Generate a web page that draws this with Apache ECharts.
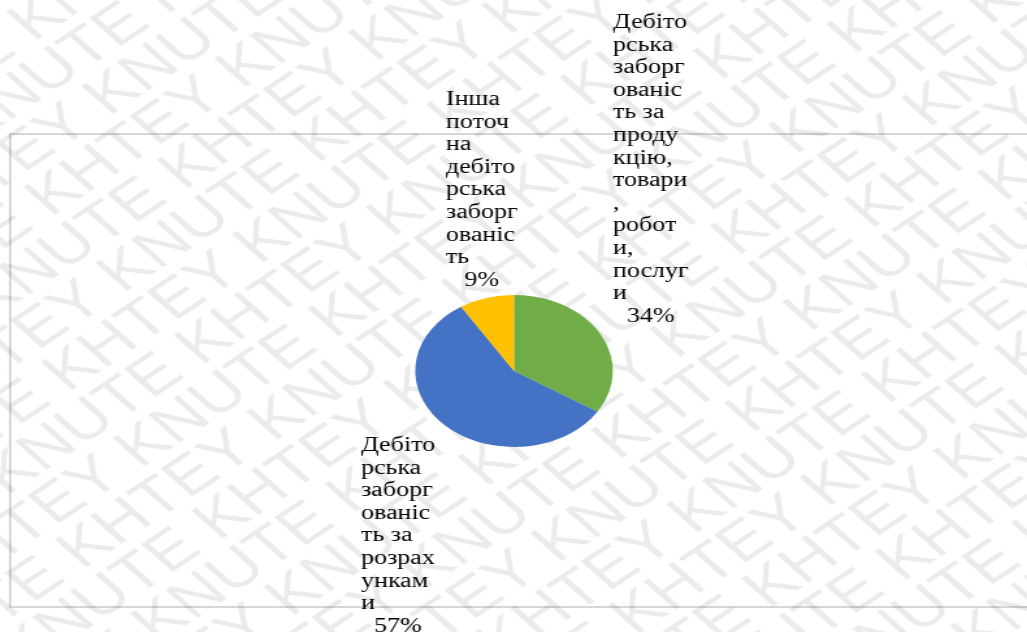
<!DOCTYPE html>
<html><head><meta charset="utf-8">
<script src="https://cdn.jsdelivr.net/npm/echarts@6/dist/echarts.min.js"></script>
<style>
html,body{margin:0;padding:0;overflow:hidden;background:#fff;}
#wrap{width:1027px;height:632px;overflow:hidden;position:relative;}
#c{width:790px;height:632px;transform:scaleX(1.3);transform-origin:0 0;}
</style></head><body><div id="wrap"><div id="c"></div></div>
<script>
const categories = [
  'Дебіторська заборгованість за продукцію, товари, роботи, послуги',
  'Дебіторська заборгованість за розрахунками',
  'Інша поточна дебіторська заборгованість'
];
const wrappedNames = [
  ['Дебіто','рська','заборг','ованіс','ть за','проду','кцію,','товари',',','робот','и,','послуг','и'],
  ['Дебіто','рська','заборг','ованіс','ть за','розрах','ункам','и'],
  ['Інша','поточ','на','дебіто','рська','заборг','ованіс','ть']
];
const values = [34, 57, 9];
const colors = ['#70AD47', '#4472C4', '#FFC000'];
const labelPos = [[471.5, 11.5], [277.7, 434.5], [343, 88.5]];
const watermarkText = 'KHTEY KNUTE ';

const serif = 'Liberation Serif';

const chart = echarts.init(document.getElementById('c'), null, {renderer: 'canvas'});
const wmRows = [];
for (let i = -16; i < 26; i++) {
  wmRows.push({
    type: 'text',
    x: -600 + (((i * 95) % 390) + 390) % 390,
    y: i * 47,
    silent: true,
    style: {
      text: watermarkText.repeat(8),
      fontFamily: 'Liberation Sans',
      fontSize: 54,
      fill: 'rgba(0,0,0,0.08)'
    }
  });
}
chart.setOption({
  animation: false,
  backgroundColor: '#fff',
  graphic: [
    {
      type: 'rect', z: 0, silent: true,
      shape: {x: 7.7, y: 134, width: 800, height: 473},
      style: {fill: 'none', stroke: '#c9c9c9', lineWidth: 1.5}
    },
    {
      type: 'group', z: 100, silent: true,
      x: 0, y: 632, rotation: 41 * Math.PI / 180,
      children: wmRows
    }
  ],
  series: [{
    type: 'pie',
    center: [395.4, 371],
    radius: 76,
    startAngle: 90,
    clockwise: true,
    avoidLabelOverlap: false,
    itemStyle: {borderWidth: 0},
    emphasis: {disabled: true},
    labelLine: {show: false},
    label: {
      show: true,
      position: 'outside',
      color: '#000',
      fontFamily: serif,
      fontSize: 20,
      lineHeight: 22.6,
      formatter: function (p) {
        return wrappedNames[p.dataIndex].map(l => '{n|' + l + '}').join('\n') +
          '\n{p|' + Math.round(p.percent) + '%}';
      },
      rich: {
        n: {fontFamily: serif, fontSize: 20, lineHeight: 22.6, color: '#000', align: 'left'},
        p: {fontFamily: serif, fontSize: 20, lineHeight: 22.6, color: '#000', align: 'center'}
      }
    },
    labelLayout: function (params) {
      const p = labelPos[params.dataIndex];
      return {x: p[0], y: p[1], align: 'left', verticalAlign: 'top'};
    },
    data: categories.map((name, i) => ({name: name, value: values[i], itemStyle: {color: colors[i]}}))
  }]
});
</script>
</body></html>
